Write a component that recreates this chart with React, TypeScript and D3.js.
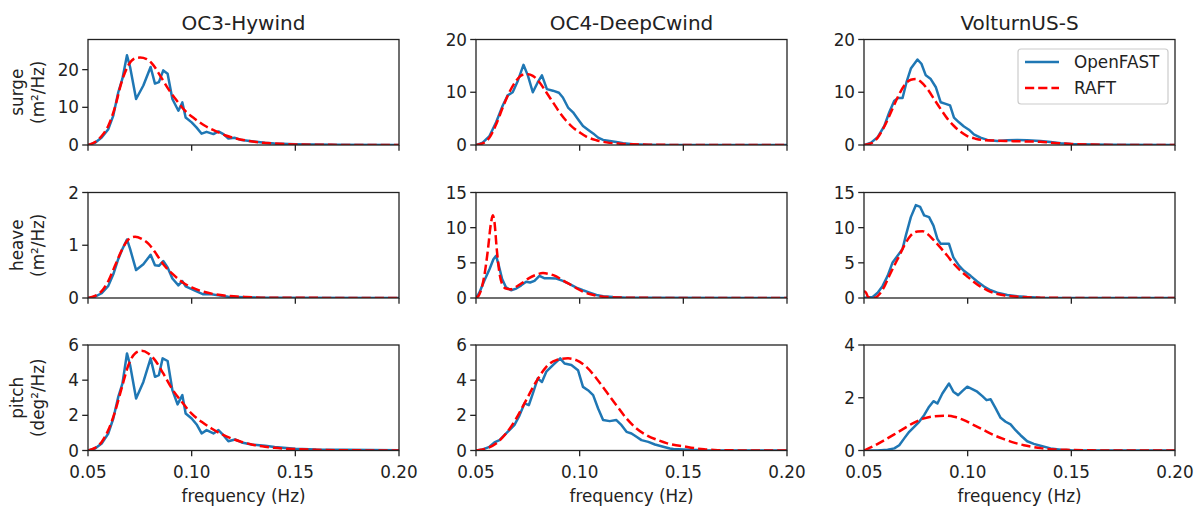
import React from "react";
import * as d3 from "d3";

type Pt = [number, number];

const platforms = ["OC3-Hywind", "OC4-DeepCwind", "VolturnUS-S"];
const dofs = ["surge", "heave", "pitch"];
const units = ["(m²/Hz)", "(m²/Hz)", "(deg²/Hz)"];
const seriesNames = ["OpenFAST", "RAFT"];

const freqDomain: Pt = [0.05, 0.2];
const freqTicks = [0.05, 0.1, 0.15, 0.2];
const freqTickLabels = ["0.05", "0.10", "0.15", "0.20"];

const yMax = [
  [28, 20, 20],
  [2, 15, 15],
  [6, 6, 4],
];
const yTicks = [
  [[0, 10, 20], [0, 10, 20], [0, 10, 20]],
  [[0, 1, 2], [0, 5, 10, 15], [0, 5, 10, 15]],
  [[0, 2, 4, 6], [0, 2, 4, 6], [0, 2, 4]],
];

// ---------- OC3-Hywind ----------
const surgeOC3_OF: Pt[] = [[0.05,0],[0.0534,0.6],[0.0566,2],[0.0598,4.2],[0.0622,7.8],[0.0646,14],[0.0666,17.6],[0.0688,23.8],[0.0703,20.7],[0.0732,12.2],[0.0767,15.8],[0.0802,20.7],[0.0823,16.3],[0.0842,16.7],[0.0863,19.8],[0.0884,18.9],[0.0907,12.2],[0.0936,9.1],[0.0955,11.3],[0.0971,7.3],[0.1,6],[0.1024,4.6],[0.1048,3.0],[0.1072,3.5],[0.1105,2.9],[0.1129,3.6],[0.1153,2.9],[0.1177,1.7],[0.1209,1.9],[0.1241,1.3],[0.129,1.0],[0.1354,0.6],[0.14,0.4],[0.15,0.2],[0.16,0.1],[0.17,0.05],[0.2,0.02]];
const surgeOC3_RAFT: Pt[] = [[0.05,0],[0.0534,0.8],[0.0566,2.4],[0.0598,5.1],[0.063,10],[0.0662,16.7],[0.0695,21.2],[0.0727,23],[0.0751,23.2],[0.0783,22.8],[0.0815,21.2],[0.0847,18.5],[0.0887,14.9],[0.0928,11.8],[0.0968,9.1],[0.1016,6.9],[0.1064,5.1],[0.1113,3.75],[0.1161,2.6],[0.1209,1.8],[0.1273,1.1],[0.1338,0.6],[0.14,0.4],[0.15,0.15],[0.16,0.06],[0.17,0.03],[0.2,0]];
const heaveOC3_OF: Pt[] = [[0.05,0],[0.0534,0.025],[0.0566,0.09],[0.0598,0.23],[0.0622,0.45],[0.0646,0.74],[0.0666,0.93],[0.0688,1.11],[0.0703,0.93],[0.0732,0.53],[0.0767,0.64],[0.0802,0.82],[0.0823,0.62],[0.0842,0.61],[0.0863,0.70],[0.0884,0.58],[0.0907,0.37],[0.0936,0.24],[0.0955,0.32],[0.0971,0.22],[0.1,0.17],[0.1032,0.11],[0.1056,0.07],[0.1096,0.07],[0.1129,0.05],[0.1177,0.025],[0.1257,0.013],[0.1354,0.006],[0.2,0]];
const heaveOC3_RAFT: Pt[] = [[0.05,0],[0.0534,0.04],[0.0566,0.13],[0.0598,0.32],[0.063,0.61],[0.0662,0.90],[0.0695,1.11],[0.0727,1.16],[0.0759,1.12],[0.0791,1.03],[0.0823,0.87],[0.0863,0.64],[0.0904,0.47],[0.0952,0.31],[0.1,0.20],[0.1048,0.13],[0.1113,0.07],[0.1177,0.04],[0.1257,0.02],[0.1354,0.006],[0.2,0]];
const pitchOC3_OF: Pt[] = [[0.05,0],[0.0534,0.11],[0.0566,0.4],[0.0598,0.97],[0.0622,1.82],[0.0646,3.05],[0.0666,3.8],[0.0688,5.52],[0.0703,4.86],[0.0732,2.96],[0.0767,3.9],[0.0802,5.24],[0.0823,4.19],[0.0842,4.29],[0.086,5.24],[0.0884,5.09],[0.0907,3.43],[0.0932,2.62],[0.0955,3.15],[0.0971,2.1],[0.1,1.82],[0.1024,1.48],[0.1048,0.97],[0.1072,1.16],[0.1105,0.97],[0.1129,1.16],[0.1153,0.87],[0.1177,0.53],[0.1209,0.63],[0.1241,0.46],[0.1289,0.34],[0.1354,0.27],[0.14,0.2],[0.15,0.1],[0.16,0.05],[0.2,0.01]];
const pitchOC3_RAFT: Pt[] = [[0.05,0],[0.0534,0.15],[0.0566,0.49],[0.0598,1.16],[0.063,2.2],[0.0662,3.53],[0.0695,4.86],[0.0727,5.52],[0.0759,5.67],[0.0791,5.52],[0.0823,5.14],[0.0863,4.38],[0.0904,3.53],[0.0952,2.77],[0.1,2.1],[0.1048,1.63],[0.1096,1.25],[0.1145,0.93],[0.1193,0.68],[0.1241,0.49],[0.1289,0.34],[0.1354,0.21],[0.14,0.15],[0.15,0.08],[0.16,0.04],[0.17,0.02],[0.2,0]];

// ---------- OC4-DeepCwind ----------
const surgeOC4_OF: Pt[] = [[0.05,0],[0.0532,0.45],[0.0565,1.7],[0.0597,4.3],[0.0629,7.5],[0.0653,9.4],[0.0677,10],[0.0702,12.2],[0.0729,15.2],[0.075,13.2],[0.0774,10],[0.0798,11.9],[0.0818,13.2],[0.0842,10.6],[0.0871,10.3],[0.09,9.9],[0.0919,9],[0.0944,7.1],[0.0968,6.2],[0.0992,4.9],[0.1016,3.6],[0.104,2.9],[0.1065,2.2],[0.1089,1.4],[0.1113,0.96],[0.1145,0.76],[0.1177,0.57],[0.121,0.32],[0.1258,0.13],[0.1323,0.06],[0.14,0.02],[0.2,0]];
const surgeOC4_RAFT: Pt[] = [[0.05,0],[0.0532,0.3],[0.0565,1.4],[0.0597,3.9],[0.0629,7.1],[0.0661,10],[0.0694,12.2],[0.0726,13.3],[0.075,13.4],[0.0774,13.1],[0.0806,11.9],[0.0839,10],[0.0871,8.1],[0.0903,6.2],[0.0935,4.6],[0.0968,3.3],[0.1,2.4],[0.1032,1.6],[0.1081,0.9],[0.1129,0.5],[0.1194,0.25],[0.1258,0.13],[0.1355,0.05],[0.15,0.01],[0.2,0]];
const heaveOC4_OF: Pt[] = [[0.05,0],[0.0516,0.76],[0.054,2.44],[0.0565,4.1],[0.0584,5.5],[0.0597,6.0],[0.061,4.6],[0.0626,2.7],[0.0645,1.5],[0.0669,1.1],[0.0694,1.34],[0.0718,1.8],[0.0742,2.3],[0.0761,2.2],[0.0782,2.44],[0.0806,3.15],[0.0831,2.8],[0.0855,2.8],[0.0887,2.77],[0.0919,2.44],[0.0952,1.96],[0.0984,1.48],[0.1016,1.1],[0.1048,0.76],[0.1081,0.43],[0.1113,0.24],[0.1161,0.14],[0.1226,0.05],[0.13,0.02],[0.2,0]];
const heaveOC4_RAFT: Pt[] = [[0.05,0],[0.0516,0.5],[0.054,3.15],[0.0556,6.5],[0.0573,10.8],[0.0581,11.75],[0.0589,10.8],[0.06,7.0],[0.0613,3.6],[0.0629,1.8],[0.0645,1.34],[0.0669,1.24],[0.0694,1.6],[0.0726,2.2],[0.0758,2.87],[0.079,3.3],[0.0823,3.54],[0.0855,3.4],[0.0887,3.06],[0.0919,2.5],[0.0952,1.96],[0.0984,1.4],[0.1016,0.9],[0.1048,0.57],[0.1081,0.33],[0.1113,0.19],[0.1161,0.1],[0.1226,0.05],[0.13,0.02],[0.2,0]];
const pitchOC4_OF: Pt[] = [[0.05,0],[0.0532,0.06],[0.0565,0.21],[0.0589,0.46],[0.0613,0.59],[0.0637,0.87],[0.0661,1.16],[0.0685,1.44],[0.071,2.0],[0.0734,2.68],[0.0755,2.58],[0.0774,3.24],[0.0798,4.1],[0.0818,3.9],[0.0839,4.48],[0.0871,4.86],[0.0906,5.24],[0.0927,4.95],[0.096,4.86],[0.0992,4.57],[0.1016,3.62],[0.104,3.43],[0.1065,3.15],[0.1089,2.39],[0.1113,1.73],[0.1145,1.67],[0.1177,1.73],[0.1202,1.44],[0.1226,1.06],[0.125,0.97],[0.1274,0.78],[0.1298,0.59],[0.1331,0.49],[0.1363,0.34],[0.1403,0.21],[0.1435,0.11],[0.1452,0.08],[0.15,0.05],[0.16,0.01],[0.2,0]];
const pitchOC4_RAFT: Pt[] = [[0.05,0],[0.0548,0.11],[0.0597,0.4],[0.0645,0.97],[0.0694,1.82],[0.0742,2.87],[0.079,3.91],[0.0839,4.76],[0.0887,5.14],[0.0944,5.24],[0.0984,5.14],[0.1032,4.76],[0.1081,4.1],[0.1129,3.34],[0.1177,2.58],[0.1226,1.82],[0.1274,1.25],[0.1323,0.87],[0.1371,0.62],[0.1419,0.42],[0.1452,0.33],[0.15,0.24],[0.155,0.14],[0.16,0.07],[0.165,0.03],[0.17,0.01],[0.2,0]];

// ---------- VolturnUS-S ----------
const surgeVUS_OF: Pt[] = [[0.05,0],[0.0534,0.45],[0.0566,1.5],[0.0598,3.6],[0.0622,6.2],[0.0646,8.4],[0.0665,8.9],[0.0686,8.9],[0.0705,11.9],[0.0726,14.5],[0.0758,16.2],[0.0777,15.4],[0.0798,13.2],[0.0822,12.5],[0.0846,11],[0.087,8.1],[0.0894,7.8],[0.0915,7.5],[0.0934,5.2],[0.0958,4.3],[0.0982,3.5],[0.1006,2.9],[0.103,2.0],[0.1062,1.4],[0.1095,0.96],[0.1143,0.76],[0.1191,0.89],[0.1239,0.96],[0.1287,0.89],[0.1351,0.76],[0.14,0.55],[0.145,0.35],[0.15,0.2],[0.16,0.08],[0.17,0.03],[0.2,0]];
const surgeVUS_RAFT: Pt[] = [[0.05,0],[0.0534,0.3],[0.0566,1.4],[0.0598,3.5],[0.063,6.2],[0.0662,9],[0.0694,11.3],[0.0726,12.36],[0.075,12.5],[0.0774,12],[0.0806,10.6],[0.0838,8.7],[0.087,6.8],[0.0902,5],[0.0934,3.6],[0.0966,2.5],[0.0998,1.7],[0.1038,1.2],[0.1079,0.9],[0.1127,0.83],[0.1191,0.76],[0.1255,0.7],[0.1351,0.6],[0.14,0.45],[0.145,0.3],[0.15,0.2],[0.16,0.08],[0.17,0.02],[0.2,0]];
const heaveVUS_OF: Pt[] = [[0.05,0],[0.0518,0.1],[0.0542,0.14],[0.0566,0.76],[0.059,1.72],[0.0614,3.15],[0.0638,5.06],[0.0662,6.0],[0.0686,6.98],[0.0702,8.9],[0.0726,11.5],[0.075,13.2],[0.0771,12.95],[0.079,11.75],[0.0814,11.5],[0.0835,10.3],[0.0854,8.4],[0.087,7.7],[0.0894,7.7],[0.091,7.7],[0.0931,5.78],[0.0958,4.6],[0.0982,3.87],[0.1014,3.15],[0.1046,2.34],[0.1079,1.62],[0.1111,1.1],[0.1143,0.76],[0.1191,0.43],[0.1239,0.24],[0.1287,0.14],[0.1351,0.05],[0.15,0.01],[0.2,0]];
const heaveVUS_RAFT: Pt[] = [[0.05,0.96],[0.051,0.76],[0.0521,0.1],[0.0542,0],[0.0558,0.1],[0.0574,0.53],[0.0598,1.62],[0.0622,3.15],[0.0646,4.6],[0.067,6.0],[0.0694,7.45],[0.0726,8.9],[0.0758,9.46],[0.0782,9.5],[0.0806,9.1],[0.0838,8.17],[0.087,7.12],[0.0902,6.0],[0.0934,4.83],[0.0966,3.87],[0.0998,3.06],[0.103,2.29],[0.1062,1.62],[0.1095,1.1],[0.1127,0.72],[0.1175,0.38],[0.1239,0.19],[0.1351,0.05],[0.15,0.01],[0.2,0]];
const pitchVUS_OF: Pt[] = [[0.05,0],[0.0566,0],[0.0614,0.03],[0.0646,0.08],[0.067,0.2],[0.0694,0.46],[0.0718,0.71],[0.0742,0.9],[0.0766,1.09],[0.079,1.34],[0.0814,1.66],[0.0835,1.87],[0.0854,1.78],[0.0878,2.16],[0.0894,2.35],[0.091,2.54],[0.0931,2.23],[0.0954,2.1],[0.0974,2.25],[0.0998,2.42],[0.1022,2.33],[0.1046,2.23],[0.1071,2.06],[0.1091,1.91],[0.1111,1.94],[0.1135,1.6],[0.1159,1.24],[0.1183,1.09],[0.1207,0.99],[0.1231,0.77],[0.1255,0.58],[0.1287,0.35],[0.1319,0.25],[0.1351,0.18],[0.14,0.08],[0.145,0.03],[0.15,0.01],[0.2,0]];
const pitchVUS_RAFT: Pt[] = [[0.05,0],[0.055,0.18],[0.0598,0.39],[0.0646,0.61],[0.0694,0.84],[0.0742,1.06],[0.079,1.22],[0.0838,1.3],[0.0886,1.32],[0.0934,1.28],[0.0982,1.15],[0.103,0.96],[0.1079,0.77],[0.1127,0.58],[0.1175,0.43],[0.1223,0.3],[0.1271,0.2],[0.1319,0.13],[0.1351,0.09],[0.14,0.05],[0.15,0.02],[0.16,0.005],[0.2,0]];

const openfast: Pt[][][] = [
  [surgeOC3_OF, surgeOC4_OF, surgeVUS_OF],
  [heaveOC3_OF, heaveOC4_OF, heaveVUS_OF],
  [pitchOC3_OF, pitchOC4_OF, pitchVUS_OF],
];
const raft: Pt[][][] = [
  [surgeOC3_RAFT, surgeOC4_RAFT, surgeVUS_RAFT],
  [heaveOC3_RAFT, heaveOC4_RAFT, heaveVUS_RAFT],
  [pitchOC3_RAFT, pitchOC4_RAFT, pitchVUS_RAFT],
];

// ---------- layout ----------
const W = 1202;
const H = 506;
const colLeft = [88, 476, 864];
const plotW = 311;
const rowTop = [39.5, 192.5, 345];
const plotH = 105.5;
const BLUE = "#1f77b4";
const RED = "#ff0000";
const TXT = "#222";
const FONT = "'DejaVu Sans', sans-serif";
const FS = 16.8;

function Panel({ r, c }: { r: number; c: number }) {
  const x0 = colLeft[c];
  const y0 = rowTop[r];
  const x = d3.scaleLinear().domain(freqDomain).range([x0, x0 + plotW]);
  const y = d3.scaleLinear().domain([0, yMax[r][c]]).range([y0 + plotH, y0]);
  const lineOF = d3
    .line<Pt>()
    .x((d) => x(d[0]))
    .y((d) => y(d[1]));
  const lineRAFT = d3
    .line<Pt>()
    .x((d) => x(d[0]))
    .y((d) => y(d[1]))
    .curve(d3.curveMonotoneX);
  const clipId = `clip-${r}-${c}`;
  const yb = y0 + plotH;
  return (
    <g>
      <defs>
        <clipPath id={clipId}>
          <rect x={x0} y={y0} width={plotW} height={plotH} />
        </clipPath>
      </defs>
      <g clipPath={`url(#${clipId})`}>
        <path d={lineOF(openfast[r][c]) || ""} fill="none" stroke={BLUE} strokeWidth={2.5} strokeLinejoin="round" />
        <path d={lineRAFT(raft[r][c]) || ""} fill="none" stroke={RED} strokeWidth={2.5} strokeDasharray="9.2,4" />
      </g>
      <rect x={x0} y={y0} width={plotW} height={plotH} fill="none" stroke="#222" strokeWidth={1.3} />
      {freqTicks.map((t, i) => (
        <g key={`xt${i}`}>
          <line x1={x(t)} x2={x(t)} y1={yb} y2={yb + 5.8} stroke="#222" strokeWidth={1.3} />
          {r === 2 && (
            <text x={x(t)} y={yb + 27.5} textAnchor="middle" fontSize={FS} fill={TXT} fontFamily={FONT}>
              {freqTickLabels[i]}
            </text>
          )}
        </g>
      ))}
      {yTicks[r][c].map((t, i) => (
        <g key={`yt${i}`}>
          <line x1={x0 - 5.8} x2={x0} y1={y(t)} y2={y(t)} stroke="#222" strokeWidth={1.3} />
          <text x={x0 - 9} y={y(t)} dy="0.36em" textAnchor="end" fontSize={FS} fill={TXT} fontFamily={FONT}>
            {String(t)}
          </text>
        </g>
      ))}
      {r === 0 && (
        <text x={x0 + plotW / 2} y={y0 - 10} textAnchor="middle" fontSize={20} fill={TXT} fontFamily={FONT}>
          {platforms[c]}
        </text>
      )}
      {r === 2 && (
        <text x={x0 + plotW / 2} y={502} textAnchor="middle" fontSize={FS} fill={TXT} fontFamily={FONT}>
          frequency (Hz)
        </text>
      )}
      {c === 0 && (
        <g>
          <text transform={`translate(23,${y0 + plotH / 2}) rotate(-90)`} textAnchor="middle" fontSize={FS} fill={TXT} fontFamily={FONT}>
            {dofs[r]}
          </text>
          <text transform={`translate(44,${y0 + plotH / 2}) rotate(-90)`} textAnchor="middle" fontSize={FS} fill={TXT} fontFamily={FONT}>
            {units[r]}
          </text>
        </g>
      )}
    </g>
  );
}

function Legend() {
  const lx = 1018;
  const ly = 49;
  const rowsY = [62, 88];
  return (
    <g>
      <rect x={lx} y={ly} width={150} height={55} rx={3} fill="#fff" fillOpacity={0.8} stroke="#cccccc" strokeWidth={1.2} />
      <line x1={1025} x2={1059} y1={rowsY[0]} y2={rowsY[0]} stroke={BLUE} strokeWidth={2.5} />
      <line x1={1025} x2={1059} y1={rowsY[1]} y2={rowsY[1]} stroke={RED} strokeWidth={2.5} strokeDasharray="9.2,4" />
      {seriesNames.map((n, i) => (
        <text key={n} x={1074} y={rowsY[i]} dy="0.36em" fontSize={FS} fill={TXT} fontFamily={FONT}>
          {n}
        </text>
      ))}
    </g>
  );
}

export default function App() {
  const cells: { r: number; c: number }[] = [];
  for (let r = 0; r < 3; r++) for (let c = 0; c < 3; c++) cells.push({ r, c });
  return (
    <svg width={W} height={H} style={{ position: "absolute", left: 0, top: 0, background: "#fff" }}>
      <rect x={0} y={0} width={W} height={H} fill="#fff" />
      {cells.map(({ r, c }) => (
        <Panel key={`${r}-${c}`} r={r} c={c} />
      ))}
      <Legend />
    </svg>
  );
}
